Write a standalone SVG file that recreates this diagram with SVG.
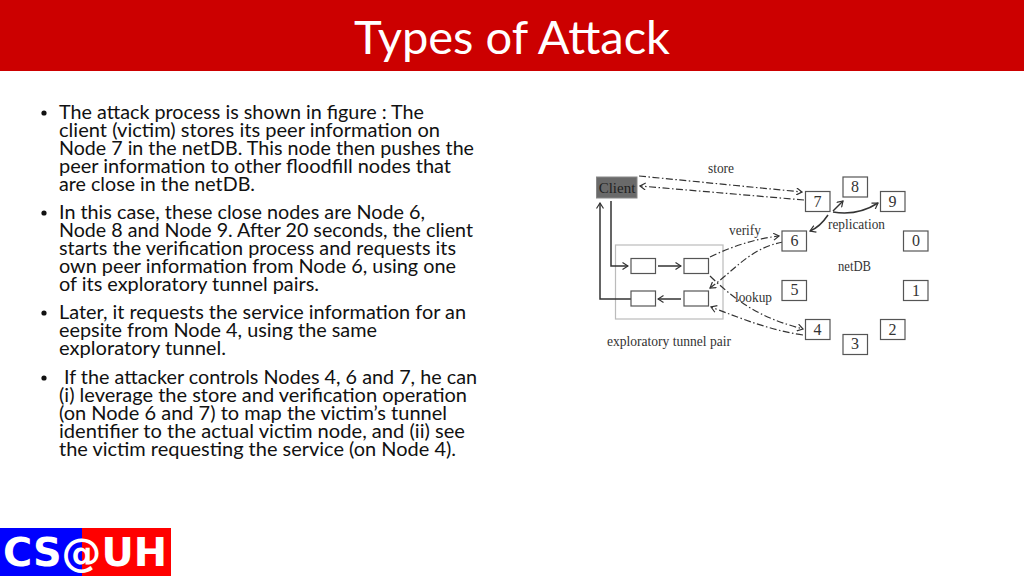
<svg xmlns="http://www.w3.org/2000/svg" width="1024" height="576" viewBox="0 0 1024 576">
<style>
.b{font:19.6px Lato,"Liberation Sans",sans-serif;fill:#111}
.f{font:14.500px "Liberation Serif",serif;fill:#333}
.n{fill:#fff;stroke:#555;stroke-width:1.2}
.nt{font:16px "Liberation Serif",serif;fill:#333;text-anchor:middle}
.d{fill:none;stroke:#333;stroke-width:1.2;stroke-dasharray:7 2.5 1.5 2.5}
.s{fill:none;stroke:#333;stroke-width:1.5}
</style>
<defs>
<marker id="a" markerWidth="7" markerHeight="8" refX="6" refY="4" orient="auto" markerUnits="userSpaceOnUse"><path d="M0.5 0.5L6 4L0.5 7.5" fill="none" stroke="#333" stroke-width="1.2"/></marker>
</defs>
<rect width="1024" height="576" fill="#fff"/>
<rect id="header" width="1024" height="71" fill="#cc0000"/>
<text x="512" y="54" text-anchor="middle" font-family="Lato,'Liberation Sans',sans-serif" font-size="47" fill="#fff" textLength="316" lengthAdjust="spacingAndGlyphs">Types of Attack</text>
<g id="body">
<g fill="#111"><circle cx="44" cy="113" r="2.6"/><circle cx="44" cy="213" r="2.6"/><circle cx="44" cy="313" r="2.6"/><circle cx="44" cy="378" r="2.6"/></g>
<text class="b" x="59" y="119" textLength="365" lengthAdjust="spacingAndGlyphs">The attack process is shown in figure : The</text>
<text class="b" x="59" y="137" textLength="381" lengthAdjust="spacingAndGlyphs">client (victim) stores its peer information on</text>
<text class="b" x="59" y="155" textLength="415" lengthAdjust="spacingAndGlyphs">Node 7 in the netDB. This node then pushes the</text>
<text class="b" x="59" y="173" textLength="392" lengthAdjust="spacingAndGlyphs">peer information to other floodfill nodes that</text>
<text class="b" x="59" y="191" textLength="196" lengthAdjust="spacingAndGlyphs">are close in the netDB.</text>
<text class="b" x="59" y="219" textLength="366" lengthAdjust="spacingAndGlyphs">In this case, these close nodes are Node 6,</text>
<text class="b" x="59" y="237" textLength="414" lengthAdjust="spacingAndGlyphs">Node 8 and Node 9. After 20 seconds, the client</text>
<text class="b" x="59" y="255" textLength="397" lengthAdjust="spacingAndGlyphs">starts the verification process and requests its</text>
<text class="b" x="59" y="273" textLength="397" lengthAdjust="spacingAndGlyphs">own peer information from Node 6, using one</text>
<text class="b" x="59" y="291" textLength="260" lengthAdjust="spacingAndGlyphs">of its exploratory tunnel pairs.</text>
<text class="b" x="59" y="319" textLength="407" lengthAdjust="spacingAndGlyphs">Later, it requests the service information for an</text>
<text class="b" x="59" y="337" textLength="318" lengthAdjust="spacingAndGlyphs">eepsite from Node 4, using the same</text>
<text class="b" x="59" y="355" textLength="167" lengthAdjust="spacingAndGlyphs">exploratory tunnel.</text>
<text class="b" x="64" y="384" textLength="413" lengthAdjust="spacingAndGlyphs">If the attacker controls Nodes 4, 6 and 7, he can</text>
<text class="b" x="59" y="402" textLength="408" lengthAdjust="spacingAndGlyphs">(i) leverage the store and verification operation</text>
<text class="b" x="59" y="420" textLength="388" lengthAdjust="spacingAndGlyphs">(on Node 6 and 7) to map the victim’s tunnel</text>
<text class="b" x="59" y="438" textLength="406" lengthAdjust="spacingAndGlyphs">identifier to the actual victim node, and (ii) see</text>
<text class="b" x="59" y="456" textLength="397" lengthAdjust="spacingAndGlyphs">the victim requesting the service (on Node 4).</text>
</g>
<g id="figure-frame"><rect x="615.500" y="245" width="107.500" height="74" fill="none" stroke="#bbb" stroke-width="1.2"/></g>
<g id="connectors">
<path class="d" d="M639 176L802 192" marker-end="url(#a)"/>
<path class="d" d="M804 200L640 186" marker-end="url(#a)"/>
<path class="s" d="M611 201V266H628" marker-end="url(#a)"/>
<path class="s" d="M631 299H600V203" marker-end="url(#a)"/>
<path class="s" d="M658 266H681" marker-end="url(#a)"/>
<path class="s" d="M681 299H658" marker-end="url(#a)"/>
<path class="d" d="M710 257Q745 240 779 236" marker-end="url(#a)"/>
<path class="d" d="M783 242C750 248 735 270 710 288" marker-end="url(#a)"/>
<path class="d" d="M710 276C745 310 770 320 803 329" marker-end="url(#a)"/>
<path class="d" d="M803 335C770 330 745 320 711 307" marker-end="url(#a)"/>
<path class="s" d="M833 211L843 201" marker-end="url(#a)"/>
<path class="s" d="M833 212Q858 216 878 203" marker-end="url(#a)"/>
<path class="s" d="M828 215Q820 227 810 231" marker-end="url(#a)"/>
</g>
<g id="client"><rect x="596.500" y="177" width="40.500" height="21" fill="#6a6a6a" stroke="#888"/><text x="617" y="193" class="nt" style="fill:#222;font-size:15px">Client</text></g>
<g id="node-7"><rect class="n" x="805.500" y="191.500" width="24.500" height="20"/><text class="nt" x="817.500" y="207">7</text></g>
<g id="node-8"><rect class="n" x="843" y="177" width="24.500" height="20"/><text class="nt" x="855" y="192">8</text></g>
<g id="node-9"><rect class="n" x="880.500" y="191.500" width="24.500" height="20"/><text class="nt" x="892.500" y="207">9</text></g>
<g id="node-0"><rect class="n" x="903.500" y="231" width="24.500" height="20"/><text class="nt" x="916" y="246">0</text></g>
<g id="node-1"><rect class="n" x="903.500" y="280.500" width="24.500" height="20"/><text class="nt" x="916" y="296">1</text></g>
<g id="node-2"><rect class="n" x="880.500" y="319.500" width="24.500" height="20"/><text class="nt" x="892.500" y="335">2</text></g>
<g id="node-3"><rect class="n" x="843" y="334.500" width="24.500" height="20"/><text class="nt" x="855" y="349">3</text></g>
<g id="node-4"><rect class="n" x="805.500" y="319.500" width="24.500" height="20"/><text class="nt" x="817.500" y="335">4</text></g>
<g id="node-5"><rect class="n" x="782" y="280.500" width="24.500" height="20"/><text class="nt" x="794.500" y="295">5</text></g>
<g id="node-6"><rect class="n" x="782" y="231" width="24.500" height="20"/><text class="nt" x="794.500" y="246">6</text></g>
<g id="tunnel-a"><rect class="n" x="631" y="258.500" width="24.500" height="15"/></g>
<g id="tunnel-b"><rect class="n" x="684" y="258.500" width="24.500" height="15"/></g>
<g id="tunnel-c"><rect class="n" x="631" y="291" width="24.500" height="15"/></g>
<g id="tunnel-d"><rect class="n" x="684" y="291" width="24.500" height="15"/></g>
<g id="labels">
<text class="f" x="708" y="173" textLength="26" lengthAdjust="spacingAndGlyphs">store</text>
<text class="f" x="729" y="235" textLength="32" lengthAdjust="spacingAndGlyphs">verify</text>
<text class="f" x="828" y="229" textLength="57" lengthAdjust="spacingAndGlyphs">replication</text>
<text class="f" x="838" y="271" textLength="33" lengthAdjust="spacingAndGlyphs">netDB</text>
<text class="f" x="735" y="302" textLength="37" lengthAdjust="spacingAndGlyphs">lookup</text>
<text class="f" x="607" y="346" textLength="124" lengthAdjust="spacingAndGlyphs">exploratory tunnel pair</text>
</g>
<g id="logo">
<rect x="0" y="528" width="82" height="48" fill="#0000ff"/>
<rect x="82" y="528" width="89" height="48" fill="#ff0000"/>
<text x="3" y="566" font-family="'DejaVu Sans',sans-serif" font-weight="700" font-size="39" fill="#fff" textLength="164" lengthAdjust="spacingAndGlyphs">CS@UH</text>
</g>
</svg>
